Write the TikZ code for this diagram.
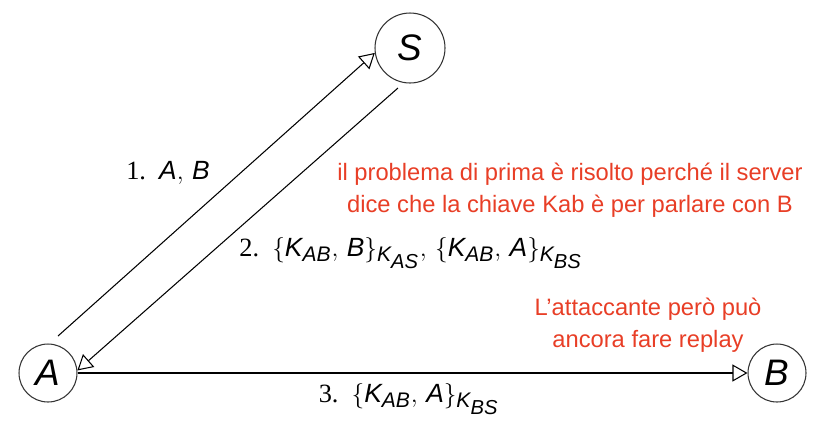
\documentclass[tikz,border=0pt]{standalone}
\usepackage{amsmath}
\usepackage{fontspec}
\setmainfont{Liberation Serif}
\newfontfamily\agentfont{Liberation Sans}
\DeclareMathSizes{15}{15.5}{12}{11.5}
\usetikzlibrary{arrows.meta}
\definecolor{notered}{RGB}{232,62,38}
\begin{document}
\begin{tikzpicture}[x=0.02cm, y=-0.02cm,
    principal/.style={circle, draw=black!80, line width=0.6pt, inner sep=0pt,
                      font=\agentfont\itshape\fontsize{21}{21}\selectfont},
    msg/.style={line width=0.6pt, -{Triangle[open, length=3mm, width=3.4mm]}},
    msglabel/.style={font=\fontsize{15}{18}\selectfont},
    remark/.style={text=notered, align=center, font=\agentfont\fontsize{13.5}{18}\selectfont}]
  % an agent or key name inside the message labels
  \newcommand{\ag}[1]{\text{\agentfont\itshape #1}}

  \useasboundingbox (0,0) rectangle (824,424);
  \node[principal, minimum size=1.16cm] (A) at (48,373) {A};
  \node[principal, minimum size=1.4cm] (S) at (410,48) {S};
  \node[principal, minimum size=1.16cm] (B) at (777,373) {B};

  % the three messages of the protocol
  \coordinate (a1) at (58,336);
  \coordinate (s2) at (398,88);
  \draw[msg] (a1) -- (S.188);
  \draw[msg] (s2) -- (A.5);
  \draw[msg] (A.east) -- (B.west);

  \node[msglabel] (m1) at (168,173) {1.\enspace$\ag{A},\, \ag{B}$};
  \node[msglabel] (m2) at (411,253)
    {2.\enspace$\{\ag{K}_{\ag{AB}},\, \ag{B}\}_{\ag{K}_{\ag{AS}}},\, \{\ag{K}_{\ag{AB}},\, \ag{A}\}_{\ag{K}_{\ag{BS}}}$};
  \node[msglabel] (m3) at (409,399) {3.\enspace$\{\ag{K}_{\ag{AB}},\, \ag{A}\}_{\ag{K}_{\ag{BS}}}$};

  % notes in red
  \node[remark] (r1) at (570,190)
    {il problema di prima è risolto perché il server\\dice che la chiave Kab è per parlare con B};
  \node[remark] (r2) at (648,325) {L’attaccante però può\\ancora fare replay};
\end{tikzpicture}
\end{document}
